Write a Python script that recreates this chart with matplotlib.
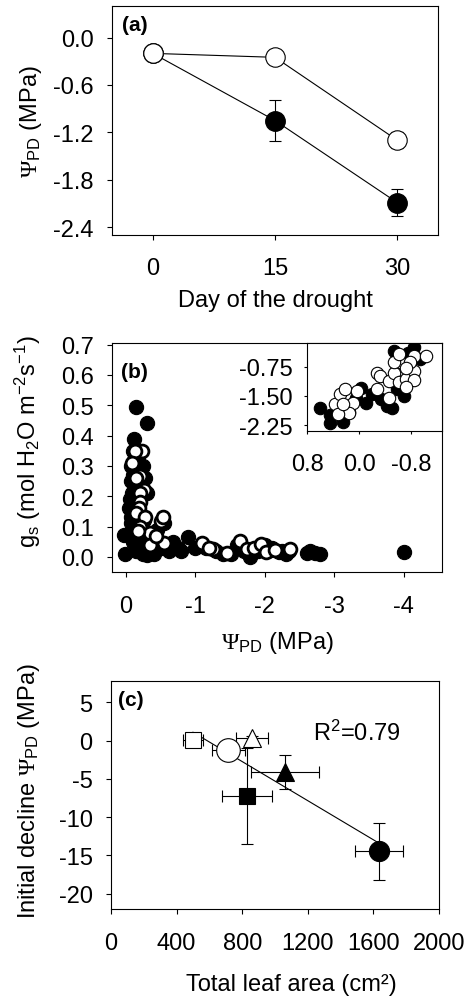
import numpy as np
import matplotlib
matplotlib.use('Agg')
import matplotlib.pyplot as plt

plt.rcParams['font.family'] = ['Liberation Sans', 'DejaVu Sans']
plt.rcParams['mathtext.fontset'] = 'custom'
plt.rcParams['mathtext.rm'] = 'Liberation Sans'
plt.rcParams['mathtext.it'] = 'Liberation Sans:italic'
plt.rcParams['mathtext.bf'] = 'Liberation Sans:bold'
plt.rcParams['mathtext.sf'] = 'Liberation Serif'
plt.rcParams['axes.unicode_minus'] = False

FS = 17

# (a) pre-dawn water potential along the drought
days = [0, 15, 30]
open_psi = [-0.20, -0.25, -1.30]
open_err = [0.02, 0.02, 0.10]
filled_psi = [-0.20, -1.05, -2.09]
filled_err = [0.02, 0.26, 0.17]

# (b) stomatal conductance vs psi_PD
b_filled_x = [-0.14, -0.30, -0.12, 0.03, 0.015, -0.10, -0.08, -0.10, -0.12, -0.09, -0.11, -0.13,
              -0.15, -0.12, -0.10, -0.18, -0.22, -0.25, -0.30, -0.40, -0.50, -0.60, -0.68, -0.80,
              -0.90, -1.00, -1.15, -1.30, -1.40, -1.52, -1.60, -1.70, -1.78, -1.90, -2.00, -2.05,
              -2.10, -2.20, -2.25, -2.30, -2.35, -2.60, -2.65, -2.72, -2.80, -4.00, -0.75,
              -0.07, -0.06, -0.08, -0.07, -0.09, -0.18, -0.24, -0.28, -0.30, -0.20, -0.16, -0.26,
              -0.14, -0.45, -0.55, -0.35, -0.62, -0.12, -0.05]
b_filled_y = [0.495, 0.44, 0.387, 0.072, 0.009, 0.35, 0.30, 0.27, 0.24, 0.21, 0.18, 0.15,
              0.12, 0.09, 0.05, 0.03, 0.02, 0.01, 0.005, 0.01, 0.03, 0.04, 0.05, 0.02,
              0.064, 0.03, 0.03, 0.02, 0.01, 0.01, 0.04, 0.02, 0.0, 0.02, 0.04, 0.02,
              0.03, 0.015, 0.02, 0.01, 0.02, 0.014, 0.02, 0.014, 0.01, 0.017, 0.03,
              0.25, 0.19, 0.13, 0.11, 0.07, 0.33, 0.30, 0.26, 0.21, 0.06, 0.04, 0.12,
              0.02, 0.09, 0.11, 0.05, 0.02, 0.32, 0.16]
b_open_x = [-0.23, -0.13, -0.09, -0.16, -0.21, -0.14, -0.26, -0.21, -0.21, -0.19, -0.14, -0.28,
            -0.50, -0.54, -0.20, -0.35, -0.18, -0.35, -0.55, -1.09, -1.26, -1.45, -1.64, -1.74,
            -1.85, -1.95, -2.01, -2.15, -2.36, -0.43, -1.20]
b_open_y = [0.35, 0.35, 0.31, 0.27, 0.266, 0.26, 0.22, 0.21, 0.18, 0.16, 0.145, 0.13,
            0.118, 0.13, 0.10, 0.08, 0.085, 0.04, 0.047, 0.045, 0.025, 0.014, 0.053, 0.025,
            0.03, 0.042, 0.016, 0.024, 0.025, 0.07, 0.03]

# (b) inset
in_filled_x = [0.6, 0.45, 0.25, -0.10, -0.03, -0.43, -0.33, -0.58, -0.53, -0.84, -0.94, -0.68, 0.45, 0.15,
               -0.20, -0.50, -0.75, 0.05]
in_filled_y = [-1.80, -2.19, -2.17, -1.67, -1.30, -1.76, -1.59, -1.33, -0.34, -0.25, -0.55, -1.50, -2.0, -1.9,
               -1.45, -1.80, -0.40, -1.55]
in_open_x = [0.37, 0.30, 0.22, 0.04, 0.09, 0.16, 0.32, 0.25, -0.27, -0.32, -0.27, -0.45, -0.45,
             -0.53, -0.61, -0.63, -0.53, -0.61, -0.72, -0.84, -0.84, -0.84, -1.02, -0.72, -0.78, -0.72]
in_open_y = [-1.71, -1.46, -1.32, -1.37, -1.67, -1.93, -1.97, -1.70, -0.90, -1.00, -1.33, -1.11, -1.55,
             -0.90, -1.15, -0.64, -0.64, -0.42, -1.07, -0.85, -1.10, -0.47, -0.47, -1.28, -0.64, -0.77]

# (c) initial decline vs total leaf area
area = [500, 715, 858, 827, 1061, 1634]
area_err = [63, 100, 97, 152, 210, 145]
decline = [0.1, -1.2, 0.3, -7.2, -4.1, -14.45]
decline_err = [0.3, 0.3, 0.3, 6.3, 2.2, 3.7]
mk = ['s', 'o', '^', 's', '^', 'o']
mk_size = [12, 17, 13, 12, 13, 14.5]
mk_face = ['white', 'white', 'white', 'black', 'black', 'black']

W, H = 472, 1004
fig = plt.figure(figsize=(W / 100, H / 100), dpi=100)


def px_axes(l, t, r, b):
    return fig.add_axes([l / W, 1 - b / H, (r - l) / W, (b - t) / H])


def style(ax, xpad=12, ypad=9.5):
    for s in ax.spines.values():
        s.set_linewidth(0.8)
    ax.tick_params(direction='out', length=3.8, width=0.8, labelsize=FS, top=False, right=False)
    ax.tick_params(axis='x', pad=xpad)
    ax.tick_params(axis='y', pad=ypad)


# ---- (a)
ax = px_axes(112, 7, 438, 236)
ax.errorbar(days, filled_psi, yerr=filled_err, color='black', lw=0.8, marker='o', ms=14,
            mfc='black', mec='black', capsize=4.3, elinewidth=0.8, capthick=0.8)
ax.errorbar(days, open_psi, yerr=open_err, color='black', lw=0.8, marker='o', ms=14,
            mfc='white', mec='black', mew=0.8, capsize=4.3, elinewidth=0.8, capthick=0.8)
ax.set_xlim(-5, 35)
ax.set_ylim(-2.5, 0.4)
ax.set_xticks([0, 15, 30])
ax.set_yticks([0.0, -0.6, -1.2, -1.8, -2.4])
ax.set_yticklabels(['0.0', '-0.6', '-1.2', '-1.8', '-2.4'])
style(ax)
ax.set_xlabel('Day of the drought', fontsize=FS)
ax.set_ylabel(r'$\mathsf{\Psi}_{\mathrm{PD}}$ (MPa)', fontsize=FS)
ax.xaxis.set_label_coords(0.5, -0.235)
ax.yaxis.set_label_coords(-0.21, 0.5)
ax.text(0.03, 0.96, '(a)', transform=ax.transAxes, fontsize=15, fontweight='bold', va='top', ha='left')

# ---- (b)
ax = px_axes(112, 344, 442, 573)
ax.scatter(b_filled_x, b_filled_y, s=105, c='black', edgecolors='black', linewidths=0.8, zorder=2)
ax.scatter(b_open_x, b_open_y, s=85, c='white', edgecolors='black', linewidths=2.0, zorder=3)
ax.set_xlim(0.2, -4.55)
ax.set_ylim(-0.05, 0.705)
ax.set_xticks([0, -1, -2, -3, -4])
ax.set_yticks(np.arange(0, 0.71, 0.1))
ax.set_yticklabels(['0.0', '0.1', '0.2', '0.3', '0.4', '0.5', '0.6', '0.7'])
style(ax, xpad=13)
ax.set_xlabel(r'$\mathsf{\Psi}_{\mathrm{PD}}$ (MPa)', fontsize=FS)
ax.set_ylabel(r'g$_{\mathrm{s}}$ (mol H$_{2}$O m$^{-2}$s$^{-1}$)', fontsize=FS)
ax.xaxis.set_label_coords(0.5, -0.25)
ax.yaxis.set_label_coords(-0.21, 0.575)
ax.text(0.028, 0.915, '(b)', transform=ax.transAxes, fontsize=15, fontweight='bold', va='top', ha='left')

ins = px_axes(307, 344, 442, 432)
ins.scatter(in_filled_x, in_filled_y, s=80, c='black', edgecolors='black', linewidths=0.8, zorder=2)
ins.scatter(in_open_x, in_open_y, s=80, c='white', edgecolors='black', linewidths=0.8, zorder=3)
ins.set_xlim(0.8, -1.27)
ins.set_ylim(-2.40, -0.14)
ins.set_xticks([0.8, 0.0, -0.8])
ins.set_xticklabels(['0.8', '0.0', '-0.8'])
ins.set_yticks([-0.75, -1.50, -2.25])
ins.set_yticklabels(['-0.75', '-1.50', '-2.25'])
style(ins, xpad=13, ypad=8)
ins.tick_params(length=2.5)

# ---- (c)
ax = px_axes(111, 682, 439, 910)
fit = np.polyfit(area, decline, 1)
xx = np.array([min(area), max(area)])
ax.plot(xx, np.polyval(fit, xx), color='black', lw=0.8, zorder=1)
for i in range(len(area)):
    ax.errorbar(area[i], decline[i], xerr=area_err[i], yerr=decline_err[i], fmt=mk[i], ms=mk_size[i],
                mfc=mk_face[i], mec='black', mew=0.8, ecolor='black', elinewidth=0.8,
                capsize=4.5, capthick=0.8, zorder=2)
ax.set_xlim(0, 2000)
ax.set_ylim(-22, 7.8)
ax.set_xticks([0, 400, 800, 1200, 1600, 2000])
ax.set_yticks([5, 0, -5, -10, -15, -20])
style(ax, xpad=13)
ax.set_xlabel('Total leaf area (cm²)', fontsize=FS)
ax.set_ylabel(r'Initial decline $\mathsf{\Psi}_{\mathrm{PD}}$ (MPa)', fontsize=FS)
ax.xaxis.set_label_coords(0.55, -0.28)
ax.yaxis.set_label_coords(-0.21, 0.52)
ax.text(0.022, 0.96, '(c)', transform=ax.transAxes, fontsize=15, fontweight='bold', va='top', ha='left')
ax.text(0.617, 0.774, r'R$^{2}$=0.79', transform=ax.transAxes, fontsize=FS, va='center', ha='left')

fig.savefig('out.png', dpi=100)
